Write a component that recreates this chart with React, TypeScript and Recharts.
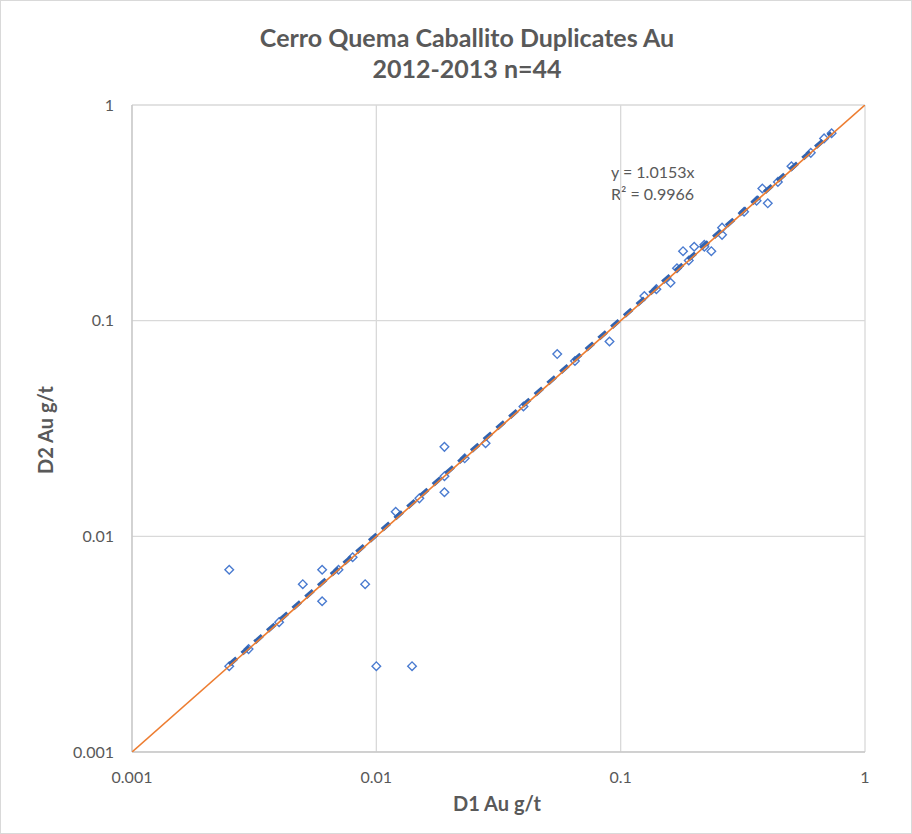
import { ScatterChart, Scatter, XAxis, YAxis, CartesianGrid } from 'recharts';

// duplicate pairs (D1 original, D2 duplicate), g/t Au
const D1 = [
    0.0025, 0.0025, 0.003, 0.004, 0.005, 0.006, 0.006, 0.007, 0.008, 0.009,
    0.01, 0.012, 0.014, 0.015, 0.019, 0.019, 0.019, 0.023, 0.028, 0.04,
    0.055, 0.065, 0.09, 0.125, 0.14, 0.16, 0.17, 0.18, 0.19, 0.2,
    0.22, 0.22, 0.235, 0.26, 0.26, 0.32, 0.36, 0.38, 0.4, 0.44,
    0.5, 0.6, 0.68, 0.73,
];
const D2 = [
    0.007, 0.0025, 0.003, 0.004, 0.006, 0.007, 0.005, 0.007, 0.008, 0.006,
    0.0025, 0.013, 0.0025, 0.015, 0.026, 0.019, 0.016, 0.023, 0.027, 0.04,
    0.07, 0.065, 0.08, 0.13, 0.14, 0.15, 0.175, 0.21, 0.19, 0.22,
    0.225, 0.22, 0.21, 0.25, 0.27, 0.32, 0.36, 0.41, 0.35, 0.44,
    0.52, 0.6, 0.7, 0.74,
];
const TICKS = [0.001, 0.01, 0.1, 1];
const TREND_SLOPE = 1.0153;
const R2 = 0.9966;

const FONT = 'Lato, "Open Sans", sans-serif';
const TEXT = '#595959';

const points = D1.map((x, i) => ({ x, y: D2[i] }));
const trend = [Math.min(...D1), Math.max(...D1)].map(x => ({ x, y: x * TREND_SLOPE }));
const oneToOne = [TICKS[0], TICKS[TICKS.length - 1]].map(v => ({ x: v, y: v }));

const Diamond = (props: any) => {
    const { cx, cy } = props;
    if (cx == null || cy == null) return null;
    const r = 4.3;
    return (
        <path d={`M${cx},${cy - r}L${cx + r},${cy}L${cx},${cy + r}L${cx - r},${cy}Z`}
            fill="white" stroke="#4A7BD0" strokeWidth={1.4} />
    );
};

const fmt = (v: number) => String(v);

export default function App() {
    return (
        <div style={{ position: 'absolute', left: 0, top: 0, width: 912, height: 834, background: 'white', fontFamily: FONT }}>
            <div style={{ position: 'absolute', left: 0, top: 0, width: 912, height: 834, boxSizing: 'border-box', border: '1px solid #d9d9d9', pointerEvents: 'none' }} />
            <div style={{ position: 'absolute', left: 0, width: 934, top: 22, textAlign: 'center', color: TEXT, fontSize: 25, fontWeight: 700, lineHeight: '31px' }}>
                Cerro Quema Caballito Duplicates Au<br />2012-2013 n=44
            </div>
            <div style={{ position: 'absolute', left: 611, top: 161, color: TEXT, fontSize: 16, lineHeight: '22px' }}>
                y = {TREND_SLOPE}x<br />R² = {R2}
            </div>
            <div style={{ position: 'absolute', left: 0, width: 994, top: 791, textAlign: 'center', color: TEXT, fontSize: 20, fontWeight: 700 }}>
                D1 Au g/t
            </div>
            <div style={{ position: 'absolute', left: 45, top: 430, width: 0, height: 0 }}>
                <div style={{ position: 'absolute', transform: 'translate(-50%, -50%) rotate(-90deg)', whiteSpace: 'nowrap', color: TEXT, fontSize: 20, fontWeight: 700 }}>
                    D2 Au g/t
                </div>
            </div>
            <ScatterChart width={912} height={834} margin={{ top: 105, right: 47, bottom: 52, left: 72 }}>
                <CartesianGrid stroke="#d9d9d9" strokeWidth={1.3} />
                <XAxis type="number" dataKey="x" scale="log" domain={[0.001, 1]} ticks={TICKS} allowDataOverflow
                    tickFormatter={fmt} height={30} tickLine={false} axisLine={{ stroke: '#bfbfbf' }} tickMargin={14}
                    tick={{ fill: TEXT, fontSize: 16, fontFamily: FONT }} />
                <YAxis type="number" dataKey="y" scale="log" domain={[0.001, 1]} ticks={TICKS} allowDataOverflow
                    tickFormatter={fmt} width={60} tickLine={false} axisLine={{ stroke: '#bfbfbf' }} tickMargin={12}
                    tick={{ fill: TEXT, fontSize: 16, fontFamily: FONT }} />
                <Scatter data={points} shape={Diamond} isAnimationActive={false} />
                <Scatter data={trend} fill="#3264B0" stroke="#3264B0" strokeWidth={4.5} strokeDasharray="10 7"
                    line={{ stroke: '#3264B0', strokeWidth: 4.5, strokeDasharray: '10 7' }}
                    shape={() => null} isAnimationActive={false} />
                <Scatter data={oneToOne} fill="#ED7D31" line={{ stroke: '#ED7D31', strokeWidth: 1.6 }}
                    shape={() => null} isAnimationActive={false} />
            </ScatterChart>
        </div>
    );
}
